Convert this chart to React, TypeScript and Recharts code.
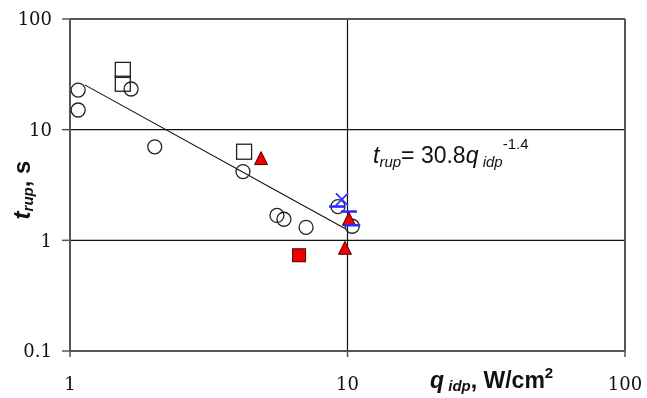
import React from "react";
import {
  ScatterChart,
  Scatter,
  XAxis,
  YAxis,
  ReferenceLine,
  Customized,
} from "recharts";

// values
const circles = [
  { x: 1.07, y: 22.8 },
  { x: 1.07, y: 15.05 },
  { x: 1.66, y: 23.3 },
  { x: 2.02, y: 7.0 },
  { x: 4.2, y: 4.18 },
  { x: 5.57, y: 1.68 },
  { x: 5.9, y: 1.55 },
  { x: 7.09, y: 1.31 },
  { x: 9.24, y: 2.02 },
  { x: 10.4, y: 1.34 },
];
const openSquares = [
  { x: 1.55, y: 34.7 },
  { x: 1.55, y: 26.0 },
  { x: 4.24, y: 6.32 },
];
const redSquares = [{ x: 6.69, y: 0.733 }];
const redTriangles = [
  { x: 4.88, y: 5.48 },
  { x: 10.12, y: 1.55 },
  { x: 9.79, y: 0.847 },
];
const blueCrosses = [{ x: 9.55, y: 2.34 }];
const blueDashes = [
  { x: 9.17, y: 2.02 },
  { x: 10.12, y: 1.82 },
  { x: 10.4, y: 1.37 },
];
const trend = [
  { x: 1.13, y: 25.4 },
  { x: 9.79, y: 1.28 },
];
const xTicks = [1, 10, 100];
const yTicks = [0.1, 1, 10, 100];

const serif = "'DejaVu Serif', serif";
const sans = "'Liberation Sans', Arial, sans-serif";
const ink = "#222";

const OpenCircle = ({ cx, cy }: any) => (
  <circle cx={cx} cy={cy} r={7} fill="none" stroke={ink} strokeWidth={1.3} />
);
const OpenSquare = ({ cx, cy }: any) => (
  <rect x={cx - 7.5} y={cy - 7.5} width={15} height={15} fill="none" stroke={ink} strokeWidth={1.3} />
);
const RedSquare = ({ cx, cy }: any) => (
  <rect x={cx - 6.5} y={cy - 6.5} width={13} height={13} fill="#ee0000" stroke="#550000" strokeWidth={1} />
);
const RedTriangle = ({ cx, cy }: any) => (
  <polygon
    points={`${cx},${cy - 7} ${cx + 6.5},${cy + 6} ${cx - 6.5},${cy + 6}`}
    fill="#ee0000"
    stroke="#550000"
    strokeWidth={1}
  />
);
const BlueCross = ({ cx, cy }: any) => (
  <g stroke="#3333ff" strokeWidth={1.8}>
    <line x1={cx - 6} y1={cy - 6} x2={cx + 6} y2={cy + 6} />
    <line x1={cx - 6} y1={cy + 6} x2={cx + 6} y2={cy - 6} />
  </g>
);
const BlueDash = ({ cx, cy }: any) => (
  <line x1={cx - 8} y1={cy} x2={cx + 8} y2={cy} stroke="#2b2bff" strokeWidth={2.6} />
);
const NoShape = () => <g />;

const YTick = ({ x, y, payload }: any) => (
  <text x={x} y={y} dy="0.35em" textAnchor="end" fontFamily={serif} fontSize={18} fill="#111">
    {payload.value}
  </text>
);
const XTick = ({ x, y, payload }: any) => (
  <text x={x} y={y} dy="0.8em" textAnchor="middle" fontFamily={serif} fontSize={18} fill="#111">
    {payload.value}
  </text>
);

const Labels = () => (
  <g fontFamily={sans} fill="#111">
    {/* equation */}
    <text x={373} y={163} fontSize={23}>
      <tspan fontStyle="italic">t</tspan>
      <tspan fontStyle="italic" fontSize={15} dy={4}>rup</tspan>
      <tspan dy={-4}>= 30.8</tspan>
      <tspan fontStyle="italic">q</tspan>
      <tspan fontStyle="italic" fontSize={15} dy={4}> idp</tspan>
      <tspan fontSize={15} dy={-18}>-1.4</tspan>
    </text>
    {/* x label */}
    <text x={430} y={388} fontSize={23} fontWeight="bold">
      <tspan fontStyle="italic">q</tspan>
      <tspan fontStyle="italic" fontSize={15} dy={3}> idp</tspan>
      <tspan dy={-3}>, W/cm</tspan>
      <tspan fontSize={15} dy={-10}>2</tspan>
    </text>
    {/* y label */}
    <text transform="translate(30,190) rotate(-90)" textAnchor="middle" fontSize={24} fontWeight="bold">
      <tspan fontStyle="italic">t</tspan>
      <tspan fontStyle="italic" fontSize={15} dy={3}>rup</tspan>
      <tspan dy={-3}>, s</tspan>
    </text>
  </g>
);

export default function App() {
  return (
    <div style={{ position: "fixed", left: 0, top: 0, width: 647, height: 398 }}>
      <ScatterChart width={647} height={398} margin={{ top: 19, right: 22, left: 0, bottom: 0 }}>
        <XAxis
          type="number"
          dataKey="x"
          scale="log"
          domain={[1, 100]}
          ticks={xTicks}
          allowDataOverflow
          height={47}
          tick={<XTick />}
          tickSize={6}
          tickMargin={19}
          axisLine={{ stroke: "#555", strokeWidth: 2 }}
          tickLine={{ stroke: "#555", strokeWidth: 1.5 }}
        />
        <YAxis
          type="number"
          dataKey="y"
          scale="log"
          domain={[0.1, 100]}
          ticks={yTicks}
          allowDataOverflow
          width={70}
          tick={<YTick />}
          tickSize={8}
          tickMargin={10}
          axisLine={{ stroke: "#555", strokeWidth: 2 }}
          tickLine={{ stroke: "#555", strokeWidth: 1.5 }}
        />
        <ReferenceLine y={10} stroke="#111" strokeWidth={1.2} />
        <ReferenceLine y={1} stroke="#111" strokeWidth={1.2} />
        <ReferenceLine x={10} stroke="#111" strokeWidth={1.2} />
        <ReferenceLine y={100} stroke="#555" strokeWidth={2} />
        <ReferenceLine x={100} stroke="#555" strokeWidth={2} />
        <Scatter data={trend} line={{ stroke: "#111", strokeWidth: 1.1 }} shape={<NoShape />} isAnimationActive={false} />
        <Scatter data={circles} shape={<OpenCircle />} isAnimationActive={false} />
        <Scatter data={openSquares} shape={<OpenSquare />} isAnimationActive={false} />
        <Scatter data={redSquares} shape={<RedSquare />} isAnimationActive={false} />
        <Scatter data={redTriangles} shape={<RedTriangle />} isAnimationActive={false} />
        <Scatter data={blueCrosses} shape={<BlueCross />} isAnimationActive={false} />
        <Scatter data={blueDashes} shape={<BlueDash />} isAnimationActive={false} />
        <Customized component={<Labels />} />
      </ScatterChart>
    </div>
  );
}
